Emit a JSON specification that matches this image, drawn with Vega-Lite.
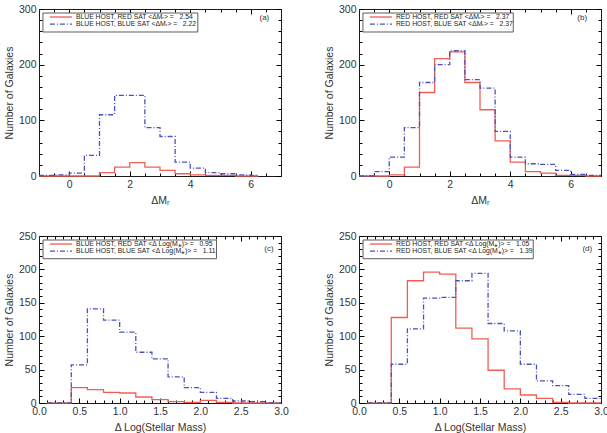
{
  "$schema": "https://vega.github.io/schema/vega-lite/v6.json",
  "padding": {"left": 4, "top": 4, "right": 2, "bottom": 2},
  "background": "white",
  "datasets": {
    "a": [
      {"x": -1, "red": 0, "blue": 1},
      {"x": -0.5, "red": 0, "blue": 2},
      {"x": 0, "red": 0, "blue": 5},
      {"x": 0.5, "red": 0, "blue": 37},
      {"x": 1, "red": 6, "blue": 110},
      {"x": 1.5, "red": 16, "blue": 145},
      {"x": 2, "red": 24, "blue": 145},
      {"x": 2.5, "red": 16, "blue": 87},
      {"x": 3, "red": 10, "blue": 71},
      {"x": 3.5, "red": 4, "blue": 25},
      {"x": 4, "red": 2, "blue": 14},
      {"x": 4.5, "red": 1, "blue": 6},
      {"x": 5, "red": 1, "blue": 4},
      {"x": 5.5, "red": 0, "blue": 2},
      {"x": 6, "red": 0, "blue": 1},
      {"x": 6.25, "red": 0, "blue": 1}
    ],
    "b": [
      {"x": -1, "red": 0, "blue": 0},
      {"x": -0.5, "red": 0, "blue": 8},
      {"x": 0, "red": 2, "blue": 34},
      {"x": 0.5, "red": 16, "blue": 87},
      {"x": 1, "red": 150, "blue": 168},
      {"x": 1.5, "red": 211, "blue": 200},
      {"x": 2, "red": 223, "blue": 225},
      {"x": 2.5, "red": 168, "blue": 173},
      {"x": 3, "red": 119, "blue": 158},
      {"x": 3.5, "red": 63, "blue": 80},
      {"x": 4, "red": 25, "blue": 34},
      {"x": 4.5, "red": 8, "blue": 22},
      {"x": 5, "red": 5, "blue": 21},
      {"x": 5.5, "red": 1, "blue": 10},
      {"x": 6, "red": 1, "blue": 3},
      {"x": 6.5, "red": 0, "blue": 1},
      {"x": 7, "red": 0, "blue": 1}
    ],
    "c": [
      {"x": 0.1, "red": 0, "blue": 0},
      {"x": 0.4, "red": 23, "blue": 57},
      {"x": 0.6, "red": 20, "blue": 141},
      {"x": 0.8, "red": 16, "blue": 124},
      {"x": 1.0, "red": 15, "blue": 106},
      {"x": 1.2, "red": 9, "blue": 76},
      {"x": 1.4, "red": 5, "blue": 66},
      {"x": 1.6, "red": 2, "blue": 39},
      {"x": 1.8, "red": 1, "blue": 23},
      {"x": 2.0, "red": 4, "blue": 16},
      {"x": 2.2, "red": 1, "blue": 7},
      {"x": 2.4, "red": 0, "blue": 3},
      {"x": 2.6, "red": 0, "blue": 2},
      {"x": 2.8, "red": 0, "blue": 0},
      {"x": 3.0, "red": 0, "blue": 0}
    ],
    "d": [
      {"x": 0.1, "red": 0, "blue": 0},
      {"x": 0.4, "red": 128, "blue": 58},
      {"x": 0.6, "red": 183, "blue": 111},
      {"x": 0.8, "red": 196, "blue": 157},
      {"x": 1.0, "red": 193, "blue": 158},
      {"x": 1.2, "red": 112, "blue": 183},
      {"x": 1.4, "red": 96, "blue": 194},
      {"x": 1.6, "red": 49, "blue": 119},
      {"x": 1.8, "red": 21, "blue": 108},
      {"x": 2.0, "red": 12, "blue": 58},
      {"x": 2.2, "red": 7, "blue": 33},
      {"x": 2.4, "red": 1, "blue": 26},
      {"x": 2.6, "red": 0, "blue": 13},
      {"x": 2.8, "red": 0, "blue": 7},
      {"x": 3.0, "red": 0, "blue": 7}
    ]
  },
  "columns": 2,
  "spacing": {"row": 60, "column": 78},
  "bounds": "flush",
  "concat": [
    {
      "width": 242, "height": 167,
      "layer": [
        {
          "data": {"name": "a"},
          "transform": [{"fold": ["red", "blue"], "as": ["sat", "n"]}],
          "mark": {"type": "line", "interpolate": "step-after", "strokeWidth": 1.3},
          "encoding": {
            "x": {"field": "x", "type": "quantitative", "title": "ΔMᵣ",
              "scale": {"domain": [-1, 7], "nice": false, "zero": false},
              "axis": {"orient": "bottom", "values": [-1, -0.5, 0, 0.5, 1, 1.5, 2, 2.5, 3, 3.5, 4, 4.5, 5, 5.5, 6, 6.5, 7],
                "labelExpr": "datum.value % 2 === 0 ? format(datum.value, 'd') : ''",
                "tickSize": {"condition": {"test": "datum.value % 2 === 0", "value": -5}, "value": -3}}},
            "y": {"field": "n", "type": "quantitative", "title": "Number of Galaxies",
              "scale": {"domain": [0, 300], "nice": false},
              "axis": {"orient": "left", "values": [0, 20, 40, 60, 80, 100, 120, 140, 160, 180, 200, 220, 240, 260, 280, 300],
                "labelExpr": "datum.value % 100 === 0 ? datum.label : ''",
                "tickSize": {"condition": {"test": "datum.value % 100 === 0", "value": -5}, "value": -3}}},
            "color": {"field": "sat", "type": "nominal", "legend": null,
              "scale": {"domain": ["red", "blue"], "range": ["#ef5d55", "#4b52b8"]}},
            "strokeDash": {"field": "sat", "type": "nominal", "legend": null,
              "scale": {"domain": ["red", "blue"], "range": [[1, 0], [5, 2, 1, 2]]}}
          }
        },
        {
          "data": {"values": [{}]},
          "mark": {"type": "text", "fontSize": 8},
          "encoding": {
            "x": {"datum": 6.45, "type": "quantitative",
              "axis": {"orient": "top", "labels": false, "title": null, "values": [-1, -0.5, 0, 0.5, 1, 1.5, 2, 2.5, 3, 3.5, 4, 4.5, 5, 5.5, 6, 6.5, 7],
                "tickSize": {"condition": {"test": "datum.value % 2 === 0", "value": -5}, "value": -3}}},
            "y": {"datum": 283, "type": "quantitative",
              "axis": {"orient": "right", "labels": false, "title": null, "values": [0, 20, 40, 60, 80, 100, 120, 140, 160, 180, 200, 220, 240, 260, 280, 300],
                "tickSize": {"condition": {"test": "datum.value % 100 === 0", "value": -5}, "value": -3}}},
            "text": {"value": "(a)"}
          }
        },
        {
          "data": {"values": [{}]},
          "mark": {"type": "rect", "fill": "white", "stroke": "#333333", "strokeWidth": 0.8},
          "encoding": {
            "x": {"datum": -0.87, "type": "quantitative", "axis": null}, "x2": {"datum": 4.25},
            "y": {"datum": 292.8, "type": "quantitative", "axis": null}, "y2": {"datum": 258.7}
          }
        },
        {
          "data": {"values": [{}]},
          "mark": {"type": "rule", "color": "#ef5d55", "strokeWidth": 1.3},
          "encoding": {
            "x": {"datum": -0.64, "type": "quantitative", "axis": null}, "x2": {"datum": 0.09},
            "y": {"datum": 285.6, "type": "quantitative", "axis": null}
          }
        },
        {
          "data": {"values": [{}]},
          "mark": {"type": "rule", "color": "#4b52b8", "strokeWidth": 1.3, "strokeDash": [5, 2, 1, 2]},
          "encoding": {
            "x": {"datum": -0.64, "type": "quantitative", "axis": null}, "x2": {"datum": 0.09},
            "y": {"datum": 273, "type": "quantitative", "axis": null}
          }
        },
        {
          "data": {"values": [{}]},
          "mark": {"type": "text", "align": "left", "baseline": "middle", "fontSize": 6.8, "color": "#222222"},
          "encoding": {
            "x": {"datum": 0.22, "type": "quantitative", "axis": null},
            "y": {"datum": 285.6, "type": "quantitative", "axis": null},
            "text": {"value": "BLUE HOST, RED SAT <ΔMᵣ> = \u00a0 2.54"}
          }
        },
        {
          "data": {"values": [{}]},
          "mark": {"type": "text", "align": "left", "baseline": "middle", "fontSize": 6.8, "color": "#222222"},
          "encoding": {
            "x": {"datum": 0.22, "type": "quantitative", "axis": null},
            "y": {"datum": 273, "type": "quantitative", "axis": null},
            "text": {"value": "BLUE HOST, BLUE SAT <ΔMᵣ> = \u00a0 2.22"}
          }
        }
      ],
      "resolve": {"axis": {"x": "independent", "y": "independent"}}
    },
    {
      "width": 242, "height": 167,
      "layer": [
        {
          "data": {"name": "b"},
          "transform": [{"fold": ["red", "blue"], "as": ["sat", "n"]}],
          "mark": {"type": "line", "interpolate": "step-after", "strokeWidth": 1.3},
          "encoding": {
            "x": {"field": "x", "type": "quantitative", "title": "ΔMᵣ",
              "scale": {"domain": [-1, 7], "nice": false, "zero": false},
              "axis": {"orient": "bottom", "values": [-1, -0.5, 0, 0.5, 1, 1.5, 2, 2.5, 3, 3.5, 4, 4.5, 5, 5.5, 6, 6.5, 7],
                "labelExpr": "datum.value % 2 === 0 ? format(datum.value, 'd') : ''",
                "tickSize": {"condition": {"test": "datum.value % 2 === 0", "value": -5}, "value": -3}}},
            "y": {"field": "n", "type": "quantitative", "title": "Number of Galaxies",
              "scale": {"domain": [0, 300], "nice": false},
              "axis": {"orient": "left", "values": [0, 20, 40, 60, 80, 100, 120, 140, 160, 180, 200, 220, 240, 260, 280, 300],
                "labelExpr": "datum.value % 100 === 0 ? datum.label : ''",
                "tickSize": {"condition": {"test": "datum.value % 100 === 0", "value": -5}, "value": -3}}},
            "color": {"field": "sat", "type": "nominal", "legend": null,
              "scale": {"domain": ["red", "blue"], "range": ["#ef5d55", "#4b52b8"]}},
            "strokeDash": {"field": "sat", "type": "nominal", "legend": null,
              "scale": {"domain": ["red", "blue"], "range": [[1, 0], [5, 2, 1, 2]]}}
          }
        },
        {
          "data": {"values": [{}]},
          "mark": {"type": "text", "fontSize": 8},
          "encoding": {
            "x": {"datum": 6.38, "type": "quantitative",
              "axis": {"orient": "top", "labels": false, "title": null, "values": [-1, -0.5, 0, 0.5, 1, 1.5, 2, 2.5, 3, 3.5, 4, 4.5, 5, 5.5, 6, 6.5, 7],
                "tickSize": {"condition": {"test": "datum.value % 2 === 0", "value": -5}, "value": -3}}},
            "y": {"datum": 283, "type": "quantitative",
              "axis": {"orient": "right", "labels": false, "title": null, "values": [0, 20, 40, 60, 80, 100, 120, 140, 160, 180, 200, 220, 240, 260, 280, 300],
                "tickSize": {"condition": {"test": "datum.value % 100 === 0", "value": -5}, "value": -3}}},
            "text": {"value": "(b)"}
          }
        },
        {
          "data": {"values": [{}]},
          "mark": {"type": "rect", "fill": "white", "stroke": "#333333", "strokeWidth": 0.8},
          "encoding": {
            "x": {"datum": -0.87, "type": "quantitative", "axis": null}, "x2": {"datum": 4.1},
            "y": {"datum": 292.8, "type": "quantitative", "axis": null}, "y2": {"datum": 258.7}
          }
        },
        {
          "data": {"values": [{}]},
          "mark": {"type": "rule", "color": "#ef5d55", "strokeWidth": 1.3},
          "encoding": {
            "x": {"datum": -0.64, "type": "quantitative", "axis": null}, "x2": {"datum": 0.09},
            "y": {"datum": 285.6, "type": "quantitative", "axis": null}
          }
        },
        {
          "data": {"values": [{}]},
          "mark": {"type": "rule", "color": "#4b52b8", "strokeWidth": 1.3, "strokeDash": [5, 2, 1, 2]},
          "encoding": {
            "x": {"datum": -0.64, "type": "quantitative", "axis": null}, "x2": {"datum": 0.09},
            "y": {"datum": 273, "type": "quantitative", "axis": null}
          }
        },
        {
          "data": {"values": [{}]},
          "mark": {"type": "text", "align": "left", "baseline": "middle", "fontSize": 6.8, "color": "#222222"},
          "encoding": {
            "x": {"datum": 0.22, "type": "quantitative", "axis": null},
            "y": {"datum": 285.6, "type": "quantitative", "axis": null},
            "text": {"value": "RED HOST, RED SAT <ΔMᵣ> = \u00a0 2.37"}
          }
        },
        {
          "data": {"values": [{}]},
          "mark": {"type": "text", "align": "left", "baseline": "middle", "fontSize": 6.8, "color": "#222222"},
          "encoding": {
            "x": {"datum": 0.22, "type": "quantitative", "axis": null},
            "y": {"datum": 273, "type": "quantitative", "axis": null},
            "text": {"value": "RED HOST, BLUE SAT <ΔMᵣ> = \u00a0 2.37"}
          }
        }
      ],
      "resolve": {"axis": {"x": "independent", "y": "independent"}}
    },
    {
      "width": 242, "height": 167,
      "layer": [
        {
          "data": {"name": "c"},
          "transform": [{"fold": ["red", "blue"], "as": ["sat", "n"]}],
          "mark": {"type": "line", "interpolate": "step-after", "strokeWidth": 1.3},
          "encoding": {
            "x": {"field": "x", "type": "quantitative", "title": "Δ Log(Stellar Mass)",
              "scale": {"domain": [0, 3], "nice": false, "zero": false},
              "axis": {"orient": "bottom", "values": [0, 0.1, 0.2, 0.3, 0.4, 0.5, 0.6, 0.7, 0.8, 0.9, 1, 1.1, 1.2, 1.3, 1.4, 1.5, 1.6, 1.7, 1.8, 1.9, 2, 2.1, 2.2, 2.3, 2.4, 2.5, 2.6, 2.7, 2.8, 2.9, 3],
                "labelExpr": "abs(datum.value * 2 - round(datum.value * 2)) < 1e-6 ? format(datum.value, '.1f') : ''",
                "tickSize": {"condition": {"test": "abs(datum.value * 2 - round(datum.value * 2)) < 1e-6", "value": -5}, "value": -3}}},
            "y": {"field": "n", "type": "quantitative", "title": "Number of Galaxies",
              "scale": {"domain": [0, 250], "nice": false},
              "axis": {"orient": "left", "values": [0, 10, 20, 30, 40, 50, 60, 70, 80, 90, 100, 110, 120, 130, 140, 150, 160, 170, 180, 190, 200, 210, 220, 230, 240, 250],
                "labelExpr": "datum.value % 50 === 0 ? datum.label : ''",
                "tickSize": {"condition": {"test": "datum.value % 50 === 0", "value": -5}, "value": -3}}},
            "color": {"field": "sat", "type": "nominal", "legend": null,
              "scale": {"domain": ["red", "blue"], "range": ["#ef5d55", "#4b52b8"]}},
            "strokeDash": {"field": "sat", "type": "nominal", "legend": null,
              "scale": {"domain": ["red", "blue"], "range": [[1, 0], [5, 2, 1, 2]]}}
          }
        },
        {
          "data": {"values": [{}]},
          "mark": {"type": "text", "fontSize": 8},
          "encoding": {
            "x": {"datum": 2.85, "type": "quantitative",
              "axis": {"orient": "top", "labels": false, "title": null, "values": [0, 0.1, 0.2, 0.3, 0.4, 0.5, 0.6, 0.7, 0.8, 0.9, 1, 1.1, 1.2, 1.3, 1.4, 1.5, 1.6, 1.7, 1.8, 1.9, 2, 2.1, 2.2, 2.3, 2.4, 2.5, 2.6, 2.7, 2.8, 2.9, 3],
                "tickSize": {"condition": {"test": "abs(datum.value * 2 - round(datum.value * 2)) < 1e-6", "value": -5}, "value": -3}}},
            "y": {"datum": 230, "type": "quantitative",
              "axis": {"orient": "right", "labels": false, "title": null, "values": [0, 10, 20, 30, 40, 50, 60, 70, 80, 90, 100, 110, 120, 130, 140, 150, 160, 170, 180, 190, 200, 210, 220, 230, 240, 250],
                "tickSize": {"condition": {"test": "datum.value % 50 === 0", "value": -5}, "value": -3}}},
            "text": {"value": "(c)"}
          }
        },
        {
          "data": {"values": [{}]},
          "mark": {"type": "rect", "fill": "white", "stroke": "#333333", "strokeWidth": 0.8},
          "encoding": {
            "x": {"datum": 0.05, "type": "quantitative", "axis": null}, "x2": {"datum": 2.2},
            "y": {"datum": 244, "type": "quantitative", "axis": null}, "y2": {"datum": 216}
          }
        },
        {
          "data": {"values": [{}]},
          "mark": {"type": "rule", "color": "#ef5d55", "strokeWidth": 1.3},
          "encoding": {
            "x": {"datum": 0.136, "type": "quantitative", "axis": null}, "x2": {"datum": 0.41},
            "y": {"datum": 238, "type": "quantitative", "axis": null}
          }
        },
        {
          "data": {"values": [{}]},
          "mark": {"type": "rule", "color": "#4b52b8", "strokeWidth": 1.3, "strokeDash": [5, 2, 1, 2]},
          "encoding": {
            "x": {"datum": 0.136, "type": "quantitative", "axis": null}, "x2": {"datum": 0.41},
            "y": {"datum": 227.5, "type": "quantitative", "axis": null}
          }
        },
        {
          "data": {"values": [{}]},
          "mark": {"type": "text", "align": "left", "baseline": "middle", "fontSize": 6.8, "color": "#222222"},
          "encoding": {
            "x": {"datum": 0.46, "type": "quantitative", "axis": null},
            "y": {"datum": 238, "type": "quantitative", "axis": null},
            "text": {"value": "BLUE HOST, RED SAT <Δ Log(M⁎)> = \u00a0 0.95"}
          }
        },
        {
          "data": {"values": [{}]},
          "mark": {"type": "text", "align": "left", "baseline": "middle", "fontSize": 6.8, "color": "#222222"},
          "encoding": {
            "x": {"datum": 0.46, "type": "quantitative", "axis": null},
            "y": {"datum": 227.5, "type": "quantitative", "axis": null},
            "text": {"value": "BLUE HOST, BLUE SAT <Δ Log(M⁎)> = \u00a0 1.11"}
          }
        }
      ],
      "resolve": {"axis": {"x": "independent", "y": "independent"}}
    },
    {
      "width": 242, "height": 167,
      "layer": [
        {
          "data": {"name": "d"},
          "transform": [{"fold": ["red", "blue"], "as": ["sat", "n"]}],
          "mark": {"type": "line", "interpolate": "step-after", "strokeWidth": 1.3},
          "encoding": {
            "x": {"field": "x", "type": "quantitative", "title": "Δ Log(Stellar Mass)",
              "scale": {"domain": [0, 3], "nice": false, "zero": false},
              "axis": {"orient": "bottom", "values": [0, 0.1, 0.2, 0.3, 0.4, 0.5, 0.6, 0.7, 0.8, 0.9, 1, 1.1, 1.2, 1.3, 1.4, 1.5, 1.6, 1.7, 1.8, 1.9, 2, 2.1, 2.2, 2.3, 2.4, 2.5, 2.6, 2.7, 2.8, 2.9, 3],
                "labelExpr": "abs(datum.value * 2 - round(datum.value * 2)) < 1e-6 ? format(datum.value, '.1f') : ''",
                "tickSize": {"condition": {"test": "abs(datum.value * 2 - round(datum.value * 2)) < 1e-6", "value": -5}, "value": -3}}},
            "y": {"field": "n", "type": "quantitative", "title": "Number of Galaxies",
              "scale": {"domain": [0, 250], "nice": false},
              "axis": {"orient": "left", "values": [0, 10, 20, 30, 40, 50, 60, 70, 80, 90, 100, 110, 120, 130, 140, 150, 160, 170, 180, 190, 200, 210, 220, 230, 240, 250],
                "labelExpr": "datum.value % 50 === 0 ? datum.label : ''",
                "tickSize": {"condition": {"test": "datum.value % 50 === 0", "value": -5}, "value": -3}}},
            "color": {"field": "sat", "type": "nominal", "legend": null,
              "scale": {"domain": ["red", "blue"], "range": ["#ef5d55", "#4b52b8"]}},
            "strokeDash": {"field": "sat", "type": "nominal", "legend": null,
              "scale": {"domain": ["red", "blue"], "range": [[1, 0], [5, 2, 1, 2]]}}
          }
        },
        {
          "data": {"values": [{}]},
          "mark": {"type": "text", "fontSize": 8},
          "encoding": {
            "x": {"datum": 2.83, "type": "quantitative",
              "axis": {"orient": "top", "labels": false, "title": null, "values": [0, 0.1, 0.2, 0.3, 0.4, 0.5, 0.6, 0.7, 0.8, 0.9, 1, 1.1, 1.2, 1.3, 1.4, 1.5, 1.6, 1.7, 1.8, 1.9, 2, 2.1, 2.2, 2.3, 2.4, 2.5, 2.6, 2.7, 2.8, 2.9, 3],
                "tickSize": {"condition": {"test": "abs(datum.value * 2 - round(datum.value * 2)) < 1e-6", "value": -5}, "value": -3}}},
            "y": {"datum": 230, "type": "quantitative",
              "axis": {"orient": "right", "labels": false, "title": null, "values": [0, 10, 20, 30, 40, 50, 60, 70, 80, 90, 100, 110, 120, 130, 140, 150, 160, 170, 180, 190, 200, 210, 220, 230, 240, 250],
                "tickSize": {"condition": {"test": "datum.value % 50 === 0", "value": -5}, "value": -3}}},
            "text": {"value": "(d)"}
          }
        },
        {
          "data": {"values": [{}]},
          "mark": {"type": "rect", "fill": "white", "stroke": "#333333", "strokeWidth": 0.8},
          "encoding": {
            "x": {"datum": 0.05, "type": "quantitative", "axis": null}, "x2": {"datum": 2.16},
            "y": {"datum": 244, "type": "quantitative", "axis": null}, "y2": {"datum": 216}
          }
        },
        {
          "data": {"values": [{}]},
          "mark": {"type": "rule", "color": "#ef5d55", "strokeWidth": 1.3},
          "encoding": {
            "x": {"datum": 0.136, "type": "quantitative", "axis": null}, "x2": {"datum": 0.41},
            "y": {"datum": 238, "type": "quantitative", "axis": null}
          }
        },
        {
          "data": {"values": [{}]},
          "mark": {"type": "rule", "color": "#4b52b8", "strokeWidth": 1.3, "strokeDash": [5, 2, 1, 2]},
          "encoding": {
            "x": {"datum": 0.136, "type": "quantitative", "axis": null}, "x2": {"datum": 0.41},
            "y": {"datum": 227.5, "type": "quantitative", "axis": null}
          }
        },
        {
          "data": {"values": [{}]},
          "mark": {"type": "text", "align": "left", "baseline": "middle", "fontSize": 6.8, "color": "#222222"},
          "encoding": {
            "x": {"datum": 0.46, "type": "quantitative", "axis": null},
            "y": {"datum": 238, "type": "quantitative", "axis": null},
            "text": {"value": "RED HOST, RED SAT <Δ Log(M⁎)> = \u00a0 1.05"}
          }
        },
        {
          "data": {"values": [{}]},
          "mark": {"type": "text", "align": "left", "baseline": "middle", "fontSize": 6.8, "color": "#222222"},
          "encoding": {
            "x": {"datum": 0.46, "type": "quantitative", "axis": null},
            "y": {"datum": 227.5, "type": "quantitative", "axis": null},
            "text": {"value": "RED HOST, BLUE SAT <Δ Log(M⁎)> = \u00a0 1.39"}
          }
        }
      ],
      "resolve": {"axis": {"x": "independent", "y": "independent"}}
    }
  ],
  "config": {
    "font": "Liberation Sans",
    "view": {"stroke": null},
    "text": {"font": "Liberation Sans", "color": "#333333"},
    "axis": {
      "grid": false,
      "domainColor": "#1a1a1a",
      "domainWidth": 1,
      "ticks": true,
      "tickColor": "#000000",
      "tickWidth": 1,
      "labelFont": "Liberation Sans",
      "labelFontSize": 10.5,
      "labelColor": "#333333",
      "labelPadding": 8,
      "labelFlush": false,
      "labelBound": false,
      "labelOverlap": false,
      "titleFont": "Liberation Sans",
      "titleFontSize": 10.5,
      "titleFontWeight": "normal",
      "titleColor": "#333333",
      "titlePadding": 4
    }
  }
}
